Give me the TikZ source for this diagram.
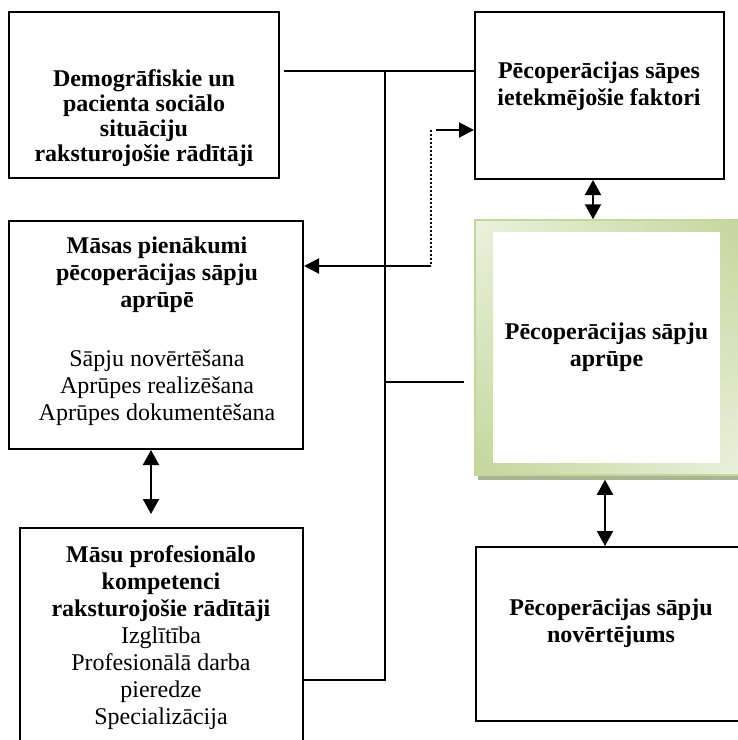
\documentclass[tikz,border=0pt]{standalone}
\usepackage{fontspec}
\setmainfont{Liberation Serif}
\usepackage{tikz}
\usetikzlibrary{arrows.meta,shadows,shadings}
\definecolor{palegreen}{HTML}{EBF1DE}
\definecolor{sagegreen}{HTML}{C3D69B}
\definecolor{mossgreen}{HTML}{A8B592}
\colorlet{carerim}{sagegreen}

\begin{document}
\begin{tikzpicture}[x=1pt,y=-1pt,line width=2pt,
  box/.style={draw,rectangle,inner sep=0pt},
  txt/.style={align=center,inner sep=0pt,font=\fontsize{24}{27}\selectfont},
  bold/.style={txt,font=\fontsize{24}{27}\selectfont\bfseries},
  arr/.style={-{Triangle[length=15pt,width=15pt]}},
  dbl/.style={{Triangle[length=15pt,width=16pt]}-{Triangle[length=15pt,width=16pt]}}]
\useasboundingbox (0,0) rectangle (738,740);

% boxes
\node[box,minimum width=270,minimum height=166] (demo) at (144,95) {};
\node[box,minimum width=249,minimum height=167] (fact) at (599.5,95.5) {};
\node[box,minimum width=294,minimum height=228] (duty) at (156,335) {};
\node[box,minimum width=283,minimum height=222] (comp) at (161.5,639) {};
\node[box,minimum width=270,minimum height=174] (eval) at (611,634) {};
\node[rectangle,minimum width=270,minimum height=255,draw=carerim,line width=1.5pt,
  upper left=palegreen,upper right=sagegreen,lower left=sagegreen,lower right=palegreen,
  drop shadow={shadow xshift=3pt,shadow yshift=-5pt,fill=mossgreen,opacity=1}]
  (care) at (610,347.5) {};

% texts
\node[bold,font=\fontsize{24}{25}\selectfont\bfseries] (demo-t) at (144,118.5)
  {Demogrāfiskie un\\pacienta sociālo\\situāciju\\raksturojošie rādītāji};
\node[bold] (fact-t) at (599,86.5) {Pēcoperācijas sāpes\\ietekmējošie faktori};
\node[txt] (duty-t) at (157,331.5)
  {\textbf{Māsas pienākumi}\\\textbf{pēcoperācijas sāpju}\\\textbf{aprūpē}\\[32pt]
   Sāpju novērtēšana\\Aprūpes realizēšana\\Aprūpes dokumentēšana};
\node[txt] (comp-t) at (161,637.5)
  {\textbf{Māsu profesionālo}\\\textbf{kompetenci}\\\textbf{raksturojošie rādītāji}\\
   Izglītība\\Profesionālā darba\\pieredze\\Specializācija};
\node[bold,fill=white,minimum width=227,minimum height=231] (care-t) at (606.5,347.5)
  {Pēcoperācijas sāpju\\aprūpe};
\node[bold] (eval-t) at (611,623.5) {Pēcoperācijas sāpju\\novērtējums};

% connectors
\coordinate (top) at (385,71);
\coordinate (mid) at (385,382);
\coordinate (bend) at (385,680);
\coordinate (dot-top) at (431,130);
\coordinate (dot-bot) at (431,266);
\coordinate (demo-out) at ([xshift=4]demo.east);
\coordinate (care-in) at ([xshift=-10]care.west);
\coordinate (fact-out) at ([xshift=-6.5]fact.south);
\coordinate (eval-in) at ([xshift=-6]eval.north);
\coordinate (care-out) at ([yshift=-4]care.south);
\coordinate (duty-out) at ([xshift=-5]duty.south);
\coordinate (comp-in) at ([yshift=13]comp.north);

\draw[line width=1.5pt] (demo-out |- top) -- (fact.west |- top);
\draw (top) -- (bend) -- (comp.east |- bend);
\draw (mid) -- (care-in |- mid);
\draw[line width=1.5pt,dash pattern=on 2pt off 2pt] (dot-top) -- (dot-bot);
\draw[arr] ([xshift=5]dot-top) -- (fact.west |- dot-top);
\draw[arr] (dot-bot) -- (duty.east |- dot-bot);
\draw[dbl] (fact-out) -- (fact-out |- care.north);
\draw[dbl] (eval-in |- care-out) -- (eval-in);
\draw[dbl] (duty-out) -- (duty-out |- comp-in);
\end{tikzpicture}
\end{document}
